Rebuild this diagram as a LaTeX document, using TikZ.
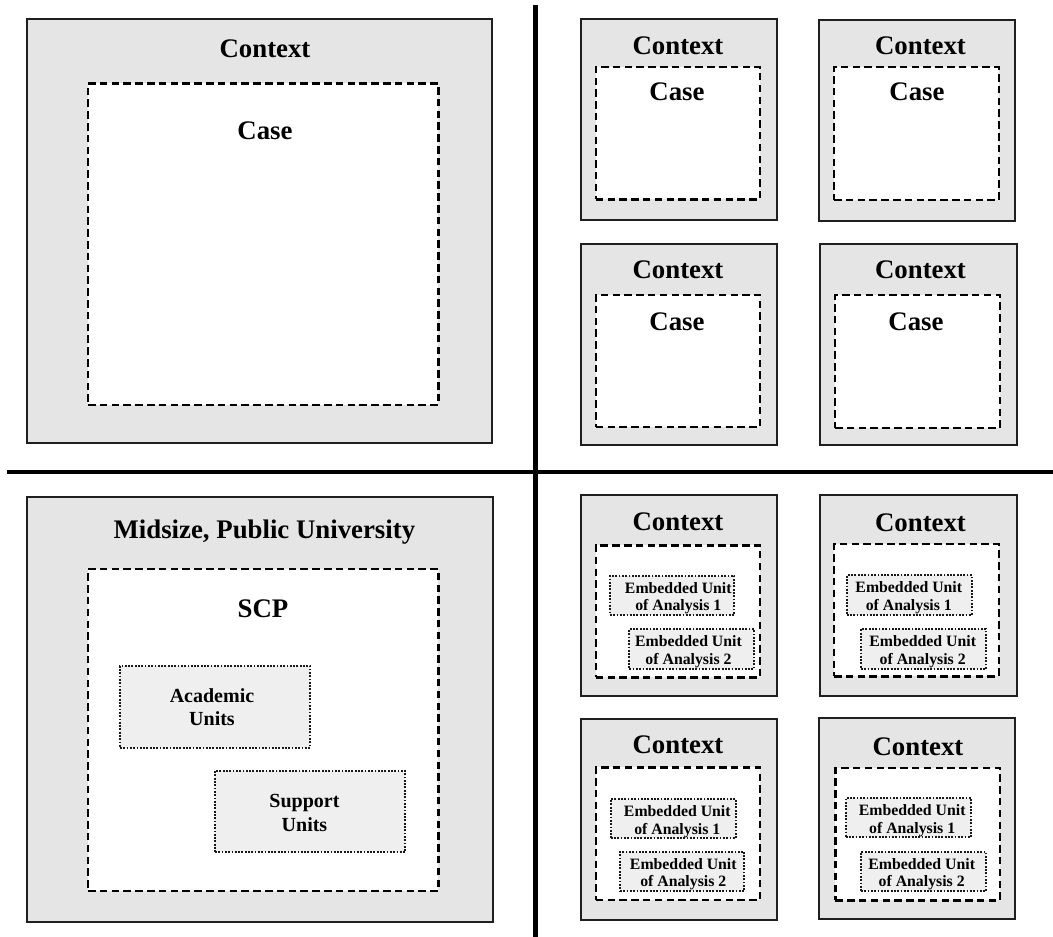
\documentclass[tikz,border=0pt]{standalone}
\usepackage{fontspec}
\setmainfont{Liberation Serif}
\usetikzlibrary{fit}

\definecolor{ctxfill}{HTML}{E5E5E5}
\definecolor{unitfill}{HTML}{EFEFEF}

\tikzset{
  ctxbox/.style={draw=black!88, line width=2pt, fill=ctxfill, inner sep=0pt},
  casebox/.style={draw=black, line width=2.4pt, dash pattern=on 7.5pt off 4.3pt, fill=white, inner sep=0pt},
  unitbox/.style={draw=black!90, line width=2pt, dash pattern=on 1.8pt off 1.5pt, fill=unitfill, inner sep=0pt},
  biglbl/.style={inner sep=0pt, anchor=base, font=\fontsize{26.8}{30}\selectfont\bfseries},
  unitlbl/.style={inner sep=0pt, align=center, font=\fontsize{20}{23.3}\selectfont\bfseries},
  eulbl/.style={inner sep=0pt, align=center, font=\fontsize{15.8}{17.7}\selectfont\bfseries},
  sepline/.style={draw=black, line width=4.4pt}
}

\begin{document}
\begin{tikzpicture}[x=1pt, y=-1pt]
\useasboundingbox (0,0) rectangle (1053,937);

% quadrant separators
\coordinate (vtop) at (535.5,5);
\coordinate (vbot) at (535.5,937);
\coordinate (hleft) at (7,472);
\coordinate (hright) at (1053,472);
\draw[sepline] (vtop) -- (vbot);
\draw[sepline] (hleft) -- (hright);

% ---- single case (upper left)
\node[ctxbox, fit={(27.3,19) (492.3,443.3)}] (sA) {};
\node[casebox, fit={(88,83.3) (438.3,405)}] (sAc) {};
\node[biglbl] (sAt) at (265,57.3) {Context};
\node[biglbl] (sAct) at (265,139) {Case};

% ---- multiple cases (upper right)
\node[ctxbox, fit={(581,19.3) (777,220)}] (m1) {};
\node[casebox, fit={(595.7,66.7) (760,199.3)}] (m1c) {};
\node[biglbl] (m1t) at (678,54) {Context};
\node[biglbl] (m1ct) at (677,100) {Case};

\node[ctxbox, fit={(819,20) (1015,220.7)}] (m2) {};
\node[casebox, fit={(834,66.7) (998.7,200)}] (m2c) {};
\node[biglbl] (m2t) at (920.5,54.5) {Context};
\node[biglbl] (m2ct) at (917,100) {Case};

\node[ctxbox, fit={(581,244) (777,444.5)}] (m3) {};
\node[casebox, fit={(595.7,294.7) (760,427)}] (m3c) {};
\node[biglbl] (m3t) at (678,278.3) {Context};
\node[biglbl] (m3ct) at (677,330) {Case};

\node[ctxbox, fit={(820,244) (1016.7,444.5)}] (m4) {};
\node[casebox, fit={(835,295) (1000,428)}] (m4c) {};
\node[biglbl] (m4t) at (920.5,278.3) {Context};
\node[biglbl] (m4ct) at (916,330) {Case};

% ---- embedded single case (lower left)
\node[ctxbox, fit={(27.3,496.7) (492.7,921.7)}] (u) {};
\node[casebox, fit={(88,569) (438.3,890.7)}] (uc) {};
\node[biglbl] (ut) at (264.4,538.3) {Midsize, Public University};
\node[biglbl] (uct) at (263,617.7) {SCP};
\node[unitbox, fit={(120,665.7) (310,747.7)}] (acad) {};
\node[unitlbl] (acadt) at (212,707.5) {Academic\\Units};
\node[unitbox, fit={(215,770.7) (405,852.3)}] (supp) {};
\node[unitlbl] (suppt) at (304.5,813) {Support\\Units};

% ---- embedded multiple cases (lower right)
\node[ctxbox, fit={(581,495) (777,696)}] (e1) {};
\node[casebox, fit={(595.7,545.3) (760,677.3)}] (e1c) {};
\node[biglbl] (e1t) at (678,530) {Context};
\node[unitbox, fit={(610,575.7) (734.3,614.7)}] (e1a) {};
\node[eulbl] (e1at) at (678.3,598.3) {Embedded Unit\\of Analysis 1};
\node[unitbox, fit={(629.3,629) (754,669)}] (e1b) {};
\node[eulbl] (e1bt) at (688.5,652) {Embedded Unit\\of Analysis 2};

\node[ctxbox, fit={(820,495) (1016.7,696)}] (e2) {};
\node[casebox, fit={(834,544) (998.7,676.3)}] (e2c) {};
\node[biglbl] (e2t) at (920.5,531.7) {Context};
\node[unitbox, fit={(846.7,575.3) (972,614.7)}] (e2a) {};
\node[eulbl] (e2at) at (908.8,598) {Embedded Unit\\of Analysis 1};
\node[unitbox, fit={(861,629) (986,669)}] (e2b) {};
\node[eulbl] (e2bt) at (922.7,652) {Embedded Unit\\of Analysis 2};

\node[ctxbox, fit={(581,718.7) (777,920)}] (e3) {};
\node[casebox, fit={(595.7,767.3) (760,900)}] (e3c) {};
\node[biglbl] (e3t) at (678,753.3) {Context};
\node[unitbox, fit={(610.7,799) (735.7,838.3)}] (e3a) {};
\node[eulbl] (e3at) at (677.3,821.7) {Embedded Unit\\of Analysis 1};
\node[unitbox, fit={(620,851.7) (744.3,891)}] (e3b) {};
\node[eulbl] (e3bt) at (683.3,874.3) {Embedded Unit\\of Analysis 2};

\node[ctxbox, fit={(819,718) (1015.3,919)}] (e4) {};
\node[casebox, fit={(835.3,768) (1000,900.3)}] (e4c) {};
\node[biglbl] (e4t) at (918,755) {Context};
\node[unitbox, fit={(845.7,798) (971,837.3)}] (e4a) {};
\node[eulbl] (e4at) at (912.2,820.7) {Embedded Unit\\of Analysis 1};
\node[unitbox, fit={(861,851.7) (986,891)}] (e4b) {};
\node[eulbl] (e4bt) at (921.7,874.3) {Embedded Unit\\of Analysis 2};
\end{tikzpicture}
\end{document}
